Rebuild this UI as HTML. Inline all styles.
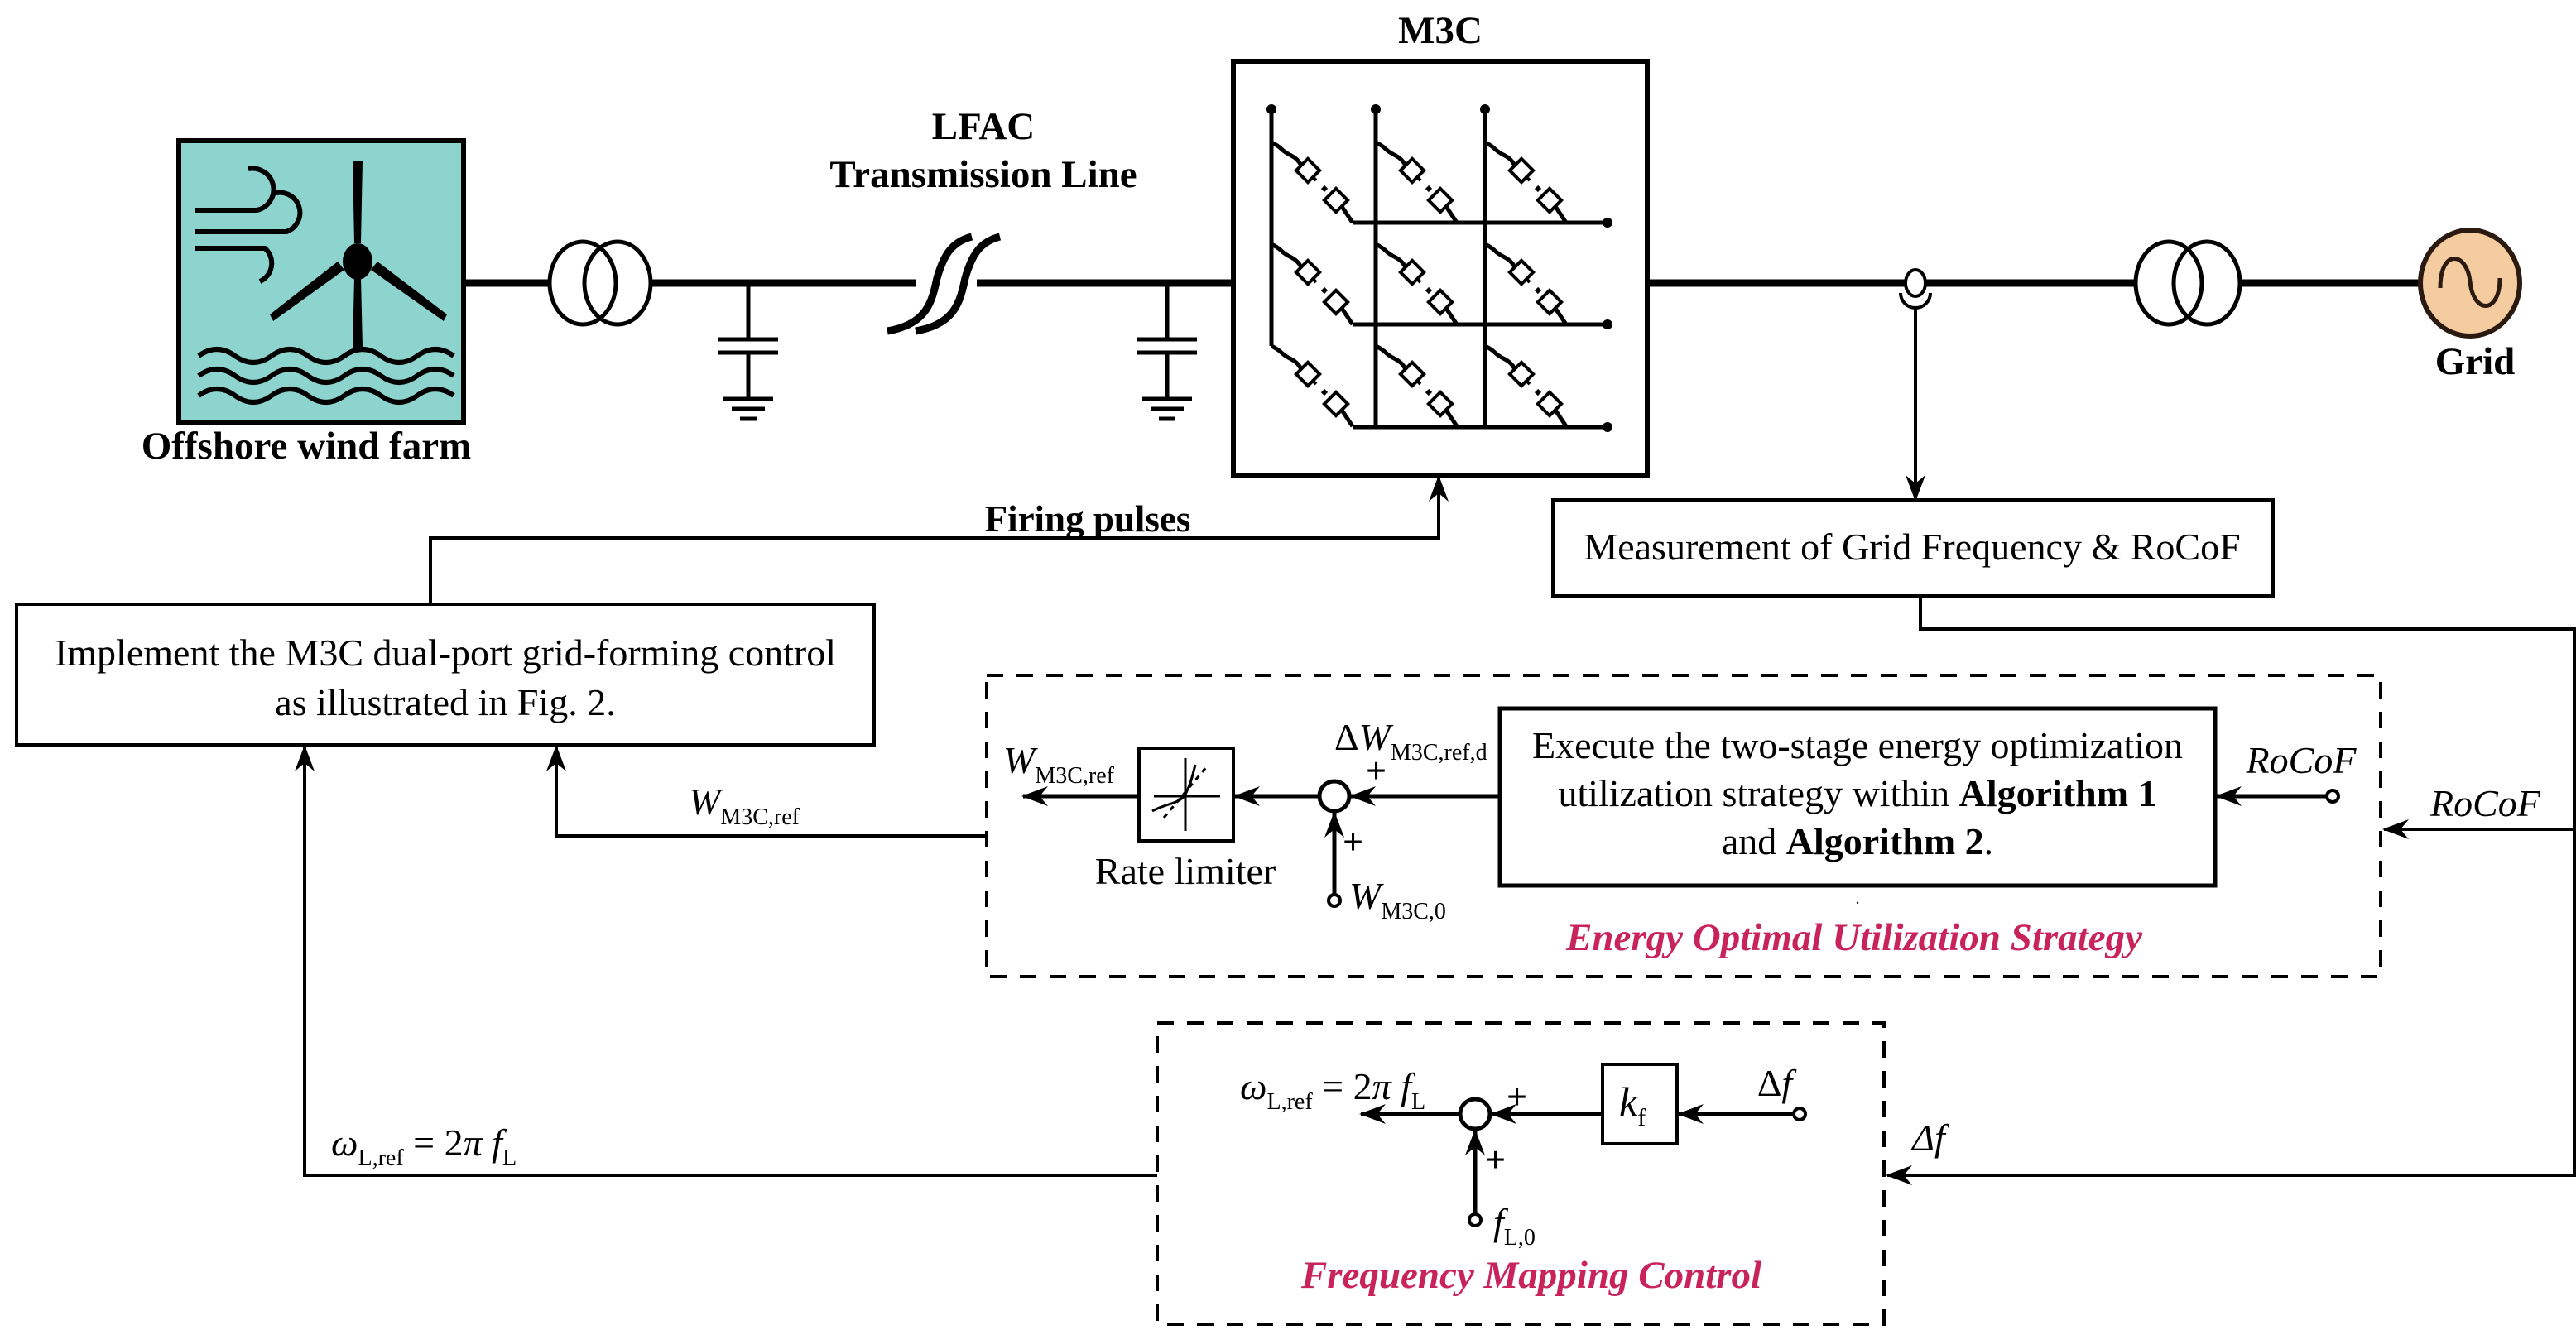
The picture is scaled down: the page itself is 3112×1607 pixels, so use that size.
<!DOCTYPE html>
<html><head><meta charset="utf-8"><style>
html,body{margin:0;padding:0;background:#fff;}
svg{display:block;}
text{font-family:"Liberation Serif",serif;fill:#000;}
.b{font-weight:bold;}
.i{font-style:italic;}
.red{fill:#C8245A;font-weight:bold;font-style:italic;}
</style></head><body>
<svg width="3112" height="1607" viewBox="0 0 1556 803.5" xmlns="http://www.w3.org/2000/svg">
<defs>
<marker id="ar" markerUnits="userSpaceOnUse" markerWidth="16" markerHeight="12" refX="15" refY="6" orient="auto">
<path d="M0,0 L16,6 L0,12 L5,6 Z" fill="#000"/>
</marker>
<g id="sm">
<rect x="-5" y="-5" width="10" height="10" fill="#fff" stroke="#000" stroke-width="2" transform="rotate(45)"/>
</g>
</defs>

<!-- Wind farm -->
<rect x="108" y="85" width="172" height="170" fill="#8DD3CE" stroke="#000" stroke-width="3"/>
<g fill="none" stroke="#000" stroke-width="3">
<path d="M118,127 H155 A10,10 0 0 0 150,102"/>
<path d="M118,140 H173 A12,12 0 0 0 165,117"/>
<path d="M118,150 H160 A12,12 0 0 1 157,170"/>
<path d="M120,215 q11,-8 22,0 t22,0 t22,0 t22,0 t22,0 t22,0 t22,0"/>
<path d="M120,227 q11,-8 22,0 t22,0 t22,0 t22,0 t22,0 t22,0 t22,0"/>
<path d="M120,239 q11,-8 22,0 t22,0 t22,0 t22,0 t22,0 t22,0 t22,0"/>
</g>
<polygon points="213,210 219,210 218,168 214,168" fill="#000"/>
<polygon points="214,147 218,147 219,97 213,97" fill="#000"/>
<polygon points="208,163 165,194 163,190 204,158" fill="#000"/>
<polygon points="224,163 268,194 270,190 228,158" fill="#000"/>
<ellipse cx="216" cy="158" rx="9" ry="11" fill="#000"/>
<text x="185" y="277" class="b" font-size="23.5" text-anchor="middle">Offshore wind farm</text>

<!-- main line left -->
<g stroke="#000" stroke-width="4.5" fill="none">
<line x1="280" y1="171" x2="332" y2="171"/>
<line x1="393" y1="171" x2="553" y2="171"/>
<line x1="590" y1="171" x2="745" y2="171"/>
<line x1="995" y1="171" x2="1290" y2="171"/>
<line x1="1353" y1="171" x2="1462" y2="171"/>
<path d="M536,200 C560,196 563,182 566,168 C570,154 575,146 587,143"/>
<path d="M553,200 C577,196 580,182 583,168 C587,154 592,146 604,143"/>
</g>
<g fill="none" stroke="#000" stroke-width="2.5">
<ellipse cx="352" cy="171" rx="20" ry="25"/>
<ellipse cx="373" cy="171" rx="20" ry="25"/>
<ellipse cx="1310" cy="171" rx="20" ry="25"/>
<ellipse cx="1333" cy="171" rx="20" ry="25"/>
</g>
<g stroke="#000" stroke-width="2.5">
<line x1="452" y1="171" x2="452" y2="205"/><line x1="434" y1="205" x2="470" y2="205"/>
<line x1="434" y1="213" x2="470" y2="213"/><line x1="452" y1="213" x2="452" y2="241"/>
<line x1="437" y1="241" x2="467" y2="241"/><line x1="442" y1="247" x2="462" y2="247"/><line x1="447" y1="253" x2="457" y2="253"/>
<line x1="705" y1="171" x2="705" y2="205"/><line x1="687" y1="205" x2="723" y2="205"/>
<line x1="687" y1="213" x2="723" y2="213"/><line x1="705" y1="213" x2="705" y2="241"/>
<line x1="690" y1="241" x2="720" y2="241"/><line x1="695" y1="247" x2="715" y2="247"/><line x1="700" y1="253" x2="710" y2="253"/>
</g>
<text x="594" y="84" class="b" font-size="23.5" text-anchor="middle">LFAC</text>
<text x="594" y="113" class="b" font-size="23.5" text-anchor="middle">Transmission Line</text>

<!-- M3C -->
<text x="870" y="26" class="b" font-size="23.5" text-anchor="middle">M3C</text>
<rect x="745" y="37" width="250" height="250" fill="#fff" stroke="#000" stroke-width="3"/>
<g stroke="#000" stroke-width="2.5" fill="none">
<line x1="768" y1="66" x2="768" y2="209"/>
<line x1="831" y1="66" x2="831" y2="258"/>
<line x1="897" y1="66" x2="897" y2="258"/>
<line x1="817" y1="134.5" x2="971" y2="134.5"/>
<line x1="817" y1="196" x2="971" y2="196"/>
<line x1="817" y1="258" x2="971" y2="258"/>
</g>
<g fill="#000">
<circle cx="768" cy="66" r="3"/><circle cx="831" cy="66" r="3"/><circle cx="897" cy="66" r="3"/>
<circle cx="971" cy="134.5" r="3"/><circle cx="971" cy="196" r="3"/><circle cx="971" cy="258" r="3"/>
</g>
<g stroke="#000" stroke-width="2.5" fill="none">
<g id="br">
<path d="M768,86 q4,2 6,4 t6,4 t6,6 t5,5"/>
<line x1="791" y1="105" x2="795" y2="109" stroke-width="2"/>
<line x1="799" y1="113" x2="801" y2="115" stroke-width="3"/>
<line x1="810" y1="124" x2="817" y2="134.5"/>
</g>
<use href="#br" x="63"/><use href="#br" x="129"/>
<use href="#br" y="61.5"/><use href="#br" x="63" y="61.5"/><use href="#br" x="129" y="61.5"/>
<use href="#br" y="123"/><use href="#br" x="63" y="123"/><use href="#br" x="129" y="123"/>
</g>
<g>
<g id="sms"><use href="#sm" x="790" y="103"/><use href="#sm" x="807" y="121"/></g>
<use href="#sms" x="63"/><use href="#sms" x="129"/>
<use href="#sms" y="61.5"/><use href="#sms" x="63" y="61.5"/><use href="#sms" x="129" y="61.5"/>
<use href="#sms" y="123"/><use href="#sms" x="63" y="123"/><use href="#sms" x="129" y="123"/>
</g>

<!-- CT & grid -->
<ellipse cx="1157" cy="171" rx="6" ry="8" fill="#fff" stroke="#000" stroke-width="2"/>
<path d="M1148,177 A9,9 0 0 0 1166,177" fill="none" stroke="#000" stroke-width="2"/>
<line x1="1157" y1="186" x2="1157" y2="302" stroke="#000" stroke-width="2" marker-end="url(#ar)"/>
<ellipse cx="1492" cy="171" rx="30" ry="32" fill="#F5CBA0" stroke="#2a1a10" stroke-width="3"/>
<path d="M1474,174 C1474,150 1490,152 1492,170 C1494,190 1510,190 1510,168" fill="none" stroke="#2a1a10" stroke-width="2.5"/>
<text x="1495" y="226" class="b" font-size="23.5" text-anchor="middle">Grid</text>

<!-- Measurement box -->
<rect x="938" y="302" width="435" height="58" fill="#fff" stroke="#000" stroke-width="2"/>
<text x="1155" y="338" font-size="23" text-anchor="middle">Measurement of Grid Frequency &amp; RoCoF</text>

<g stroke="#000" stroke-width="2" fill="none">
<polyline points="1160,360 1160,380 1555,380 1555,710 1140,710" marker-end="url(#ar)"/>
<polyline points="1555,501 1440,501" marker-end="url(#ar)"/>
</g>
<text x="1468" y="493" class="i" font-size="23">RoCoF</text>
<text x="1155" y="695" class="i" font-size="23">Δf</text>

<!-- Implement box -->
<rect x="10" y="365" width="518" height="85" fill="#fff" stroke="#000" stroke-width="2"/>
<text x="269" y="402" font-size="23" text-anchor="middle">Implement the M3C dual-port grid-forming control</text>
<text x="269" y="432" font-size="23" text-anchor="middle">as illustrated in Fig. 2.</text>
<polyline points="260,365 260,325 869,325 869,288" fill="none" stroke="#000" stroke-width="2" marker-end="url(#ar)"/>
<text x="657" y="321" class="b" font-size="22.5" text-anchor="middle">Firing pulses</text>

<!-- Energy dashed box -->
<rect x="596" y="408" width="842" height="182" fill="none" stroke="#000" stroke-width="2" stroke-dasharray="10,8"/>
<rect x="906" y="428" width="432" height="107" fill="#fff" stroke="#000" stroke-width="2.5"/>
<text x="1122" y="458" font-size="23" text-anchor="middle">Execute the two-stage energy optimization</text>
<text x="1122" y="487" font-size="23" text-anchor="middle">utilization strategy within <tspan class="b">Algorithm 1</tspan></text>
<text x="1122" y="516" font-size="23" text-anchor="middle">and <tspan class="b">Algorithm 2</tspan>.</text>
<text x="1122" y="546" font-size="10" text-anchor="middle">.</text>
<text x="1120" y="574" class="red" font-size="23.5" text-anchor="middle">Energy Optimal Utilization Strategy</text>
<g stroke="#000" stroke-width="2.5" fill="none">
<line x1="1406" y1="481" x2="1339" y2="481" marker-end="url(#ar)"/>
<line x1="906" y1="481" x2="816" y2="481" marker-end="url(#ar)"/>
<line x1="797" y1="481" x2="746" y2="481" marker-end="url(#ar)"/>
<line x1="688" y1="481" x2="618" y2="481" marker-end="url(#ar)"/>
<line x1="806" y1="541" x2="806" y2="491" marker-end="url(#ar)"/>
<circle cx="806" cy="481" r="9" fill="#fff"/>
<circle cx="1409" cy="481" r="3.5" fill="#fff" stroke-width="2"/>
<circle cx="806" cy="544" r="3.5" fill="#fff" stroke-width="2"/>
<rect x="688" y="452" width="57" height="56" fill="#fff" stroke-width="2"/>
</g>
<g stroke="#000" stroke-width="1.5" fill="none">
<line x1="697" y1="481" x2="737" y2="481"/><line x1="716" y1="458" x2="716" y2="502"/>
<path d="M696,490 C705,485 712,486 716,480 C719,474 720,470 722,462"/>
<line x1="703" y1="494" x2="729" y2="463" stroke-dasharray="3,3"/>
</g>
<text x="1390" y="467" class="i" font-size="23" text-anchor="middle">RoCoF</text>
<text x="806" y="453" font-size="23">Δ<tspan class="i">W</tspan><tspan font-size="14" dy="6">M3C,ref,d</tspan></text>
<text x="825" y="473" class="b" font-size="22">+</text>
<text x="811" y="516" class="b" font-size="22">+</text>
<text x="815" y="549" class="i" font-size="23">W<tspan font-size="14" dy="6" font-style="normal">M3C,0</tspan></text>
<text x="606" y="467" class="i" font-size="23">W<tspan font-size="14" dy="6" font-style="normal">M3C,ref</tspan></text>
<text x="716" y="534" font-size="23" text-anchor="middle">Rate limiter</text>
<polyline points="596,505 336,505 336,451" fill="none" stroke="#000" stroke-width="2" marker-end="url(#ar)"/>
<text x="416" y="492" class="i" font-size="23">W<tspan font-size="14" dy="6" font-style="normal">M3C,ref</tspan></text>

<!-- Frequency dashed box -->
<rect x="699" y="618" width="439" height="182" fill="none" stroke="#000" stroke-width="2" stroke-dasharray="10,8"/>
<g stroke="#000" stroke-width="2.5" fill="none">
<line x1="1084" y1="673" x2="1014" y2="673" marker-end="url(#ar)"/>
<line x1="968" y1="673" x2="901" y2="673" marker-end="url(#ar)"/>
<line x1="882" y1="673" x2="822" y2="673" marker-end="url(#ar)"/>
<line x1="891" y1="734" x2="891" y2="683" marker-end="url(#ar)"/>
<circle cx="891" cy="673" r="9" fill="#fff"/>
<circle cx="1087" cy="673" r="3.5" fill="#fff" stroke-width="2"/>
<circle cx="891" cy="737" r="3.5" fill="#fff" stroke-width="2"/>
<rect x="968" y="643" width="45" height="48" fill="#fff" stroke-width="2"/>
</g>
<text x="978" y="674" class="i" font-size="25">k<tspan font-size="15" dy="6" font-style="normal">f</tspan></text>
<text x="1072" y="662" font-size="23" text-anchor="middle">Δ<tspan class="i">f</tspan></text>
<text x="910" y="670" class="b" font-size="22">+</text>
<text x="897" y="708" class="b" font-size="22">+</text>
<text x="902" y="746" class="i" font-size="23">f<tspan font-size="14" dy="6" font-style="normal">L,0</tspan></text>
<text x="749" y="664" font-size="23"><tspan class="i">ω</tspan><tspan font-size="14" dy="6">L,ref</tspan><tspan dy="-6"> = 2</tspan><tspan class="i">π f</tspan><tspan font-size="14" dy="6">L</tspan></text>
<text x="925" y="778" class="red" font-size="23.5" text-anchor="middle">Frequency Mapping Control</text>
<polyline points="699,710 184,710 184,451" fill="none" stroke="#000" stroke-width="2" marker-end="url(#ar)"/>
<text x="200" y="698" font-size="23"><tspan class="i">ω</tspan><tspan font-size="14" dy="6">L,ref</tspan><tspan dy="-6"> = 2</tspan><tspan class="i">π f</tspan><tspan font-size="14" dy="6">L</tspan></text>
</svg>
</body></html>
